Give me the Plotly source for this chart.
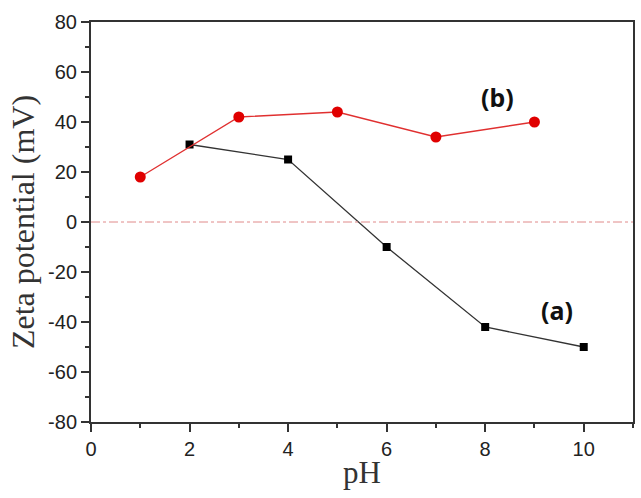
import plotly.graph_objects as go

ph_a = [2, 4, 6, 8, 10]
zeta_a = [31, 25, -10, -42, -50]
ph_b = [1, 3, 5, 7, 9]
zeta_b = [18, 42, 44, 34, 40]
x_ticks = [0, 2, 4, 6, 8, 10]
y_ticks = [-80, -60, -40, -20, 0, 20, 40, 60, 80]
y_ticktext = [str(v).replace("\u2212", "-") for v in y_ticks]

fig = go.Figure()
fig.add_hline(y=0, line=dict(color="#e08a8a", width=1, dash="dashdot"))
fig.add_trace(go.Scatter(x=ph_a, y=zeta_a, mode="lines+markers",
                         line=dict(color="#333333", width=1.3),
                         marker=dict(symbol="square", size=8, color="black"),
                         name="(a)"))
fig.add_trace(go.Scatter(x=ph_b, y=zeta_b, mode="lines+markers",
                         line=dict(color="#e03030", width=1.3),
                         marker=dict(symbol="circle", size=11, color="#e00000"),
                         name="(b)"))
fig.add_annotation(x=8.24, y=50, text="<b>(b)</b>", showarrow=False,
                   font=dict(family="Noto Sans", size=25, color="#111111"))
fig.add_annotation(x=9.45, y=-35, text="<b>(a)</b>", showarrow=False,
                   font=dict(family="Noto Sans", size=25, color="#111111"))

axis_common = dict(showgrid=False, zeroline=False, showline=True, linecolor="#333333",
                   linewidth=2, mirror=True, ticks="outside", tickcolor="#333333",
                   tickwidth=2, ticklen=8,
                   tickfont=dict(family="Liberation Sans", size=20, color="#222222"))
fig.update_xaxes(range=[0, 11], tickvals=x_ticks,
                 minor=dict(dtick=1, ticks="outside", ticklen=4, tickcolor="#333333", tickwidth=2),
                 title=dict(text="pH", font=dict(family="Liberation Serif", size=31, color="#333333"),
                            standoff=2),
                 **axis_common)
fig.update_yaxes(range=[-80, 80], tickvals=y_ticks, ticktext=y_ticktext,
                 minor=dict(dtick=10, ticks="outside", ticklen=4, tickcolor="#333333", tickwidth=2),
                 title=dict(text="Zeta potential (mV)",
                            font=dict(family="Liberation Serif", size=32, color="#333333"),
                            standoff=4),
                 **axis_common)
fig.update_layout(width=641, height=498, showlegend=False,
                  margin=dict(l=91, r=6, t=22, b=76),
                  plot_bgcolor="white", paper_bgcolor="white")
fig.write_html("out.html")
